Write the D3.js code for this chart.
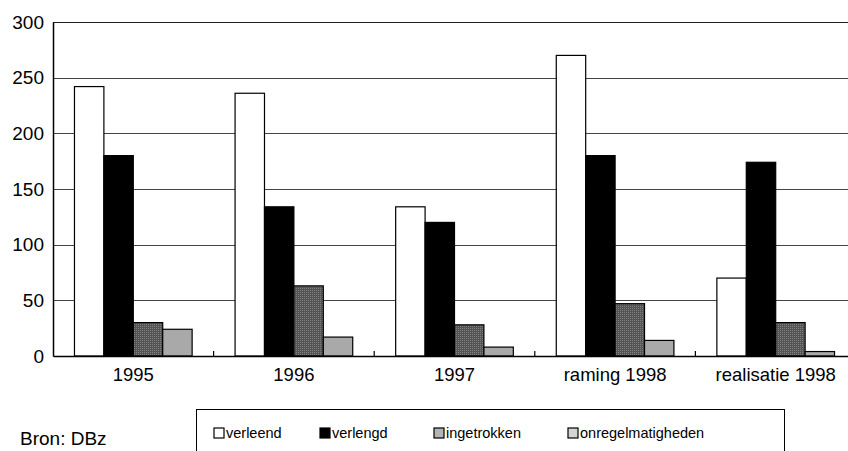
<!DOCTYPE html>
<html><head><meta charset="utf-8">
<script src="https://cdn.jsdelivr.net/npm/d3@7"></script>
<style>body{margin:0;background:#fff}svg{display:block}text{font-family:"Liberation Sans",Arial,sans-serif}</style>
</head><body>
<svg id="c" width="848" height="451"></svg>
<script>
const categories = ["1995","1996","1997","raming 1998","realisatie 1998"];
const seriesNames = ["verleend","verlengd","ingetrokken","onregelmatigheden"];
const verleend = [242, 236, 134, 270, 70];
const verlengd = [180, 134, 120, 180, 174];
const ingetrokken = [30, 63, 28, 47, 30];
const onregelmatigheden = [24, 17, 8, 14, 4];
const yTicks = [0,50,100,150,200,250,300];
const source = "Bron: DBz";

const values = [verleend, verlengd, ingetrokken, onregelmatigheden];
const fills = ["#ffffff","#000000","url(#dots)","#a9a9a9"];
const legendFills = ["#ffffff","#000000","#b4b4b4","#d4d4d4"];

const svg = d3.select("#c");
const defs = svg.append("defs");
const pat = defs.append("pattern").attr("id","dots").attr("width",2).attr("height",2).attr("patternUnits","userSpaceOnUse");
pat.append("rect").attr("width",2).attr("height",2).attr("fill","#545454");
pat.append("rect").attr("width",1).attr("height",1).attr("fill","#808080");

const x0 = d3.scaleBand().domain(categories).range([53, 856]).paddingInner(0).paddingOuter(0);
const x1 = d3.scaleBand().domain(seriesNames).range([0, x0.bandwidth()]).paddingInner(0).paddingOuter(0.73);
const y = d3.scaleLinear().domain([0,300]).range([356, 22]);

// gridlines
svg.append("g").selectAll("line").data(yTicks.filter(d=>d>0)).join("line")
  .attr("x1",53).attr("x2",856).attr("y1",d=>Math.round(y(d))+0.5).attr("y2",d=>Math.round(y(d))+0.5)
  .attr("stroke",d=>d===300?"#222":"#444").attr("stroke-width",1);

// bars
const rows = [];
categories.forEach((c,i)=>seriesNames.forEach((s,j)=>rows.push({c,s,j,v:values[j][i]})));
svg.append("g").selectAll("rect").data(rows).join("rect")
  .attr("x",d=>x0(d.c)+x1(d.s))
  .attr("y",d=>y(d.v))
  .attr("width",x1.bandwidth())
  .attr("height",d=>y(0)-y(d.v))
  .attr("fill",d=>fills[d.j])
  .attr("stroke","#000").attr("stroke-width",1.2);

// y axis
const yAxis = d3.axisLeft(y).tickValues(yTicks).tickSize(0).tickPadding(9).tickFormat(d3.format("d"));
const gy = svg.append("g").attr("transform","translate(53,0)").call(yAxis);
gy.select(".domain").attr("stroke","#000").attr("stroke-width",1.5);
gy.selectAll("text").attr("font-size",19).attr("fill","#000").style("font-family","'Liberation Sans',Arial,sans-serif");

// x axis
const xAxis = d3.axisBottom(x0).tickSize(0).tickPadding(12);
const gx = svg.append("g").attr("transform","translate(0,356)").call(xAxis);
gx.select(".domain").attr("stroke","#000").attr("stroke-width",1.5);
gx.selectAll("text").attr("font-size",18.5).attr("fill","#000").style("font-family","'Liberation Sans',Arial,sans-serif");
// category boundary ticks (inside)
svg.append("g").selectAll("line").data(categories.slice(1)).join("line")
  .attr("x1",d=>x0(d)).attr("x2",d=>x0(d)).attr("y1",356).attr("y2",351)
  .attr("stroke","#000").attr("stroke-width",1.2);

// source
svg.append("text").attr("x",20).attr("y",445).attr("font-size",19).text(source);

// legend
svg.append("rect").attr("x",196.5).attr("y",409.5).attr("width",588).attr("height",60)
  .attr("fill","#fff").attr("stroke","#000").attr("stroke-width",1);
const legX = [214, 320, 434, 568];
const lg = svg.append("g").selectAll("g").data(seriesNames).join("g")
  .attr("transform",(d,i)=>`translate(${legX[i]},428)`);
lg.append("rect").attr("width",10).attr("height",10).attr("fill",(d,i)=>legendFills[i]).attr("stroke","#000").attr("stroke-width",1.2);
lg.append("text").attr("x",12).attr("y",10).attr("font-size",14.5).text(d=>d);
</script>
</body></html>
